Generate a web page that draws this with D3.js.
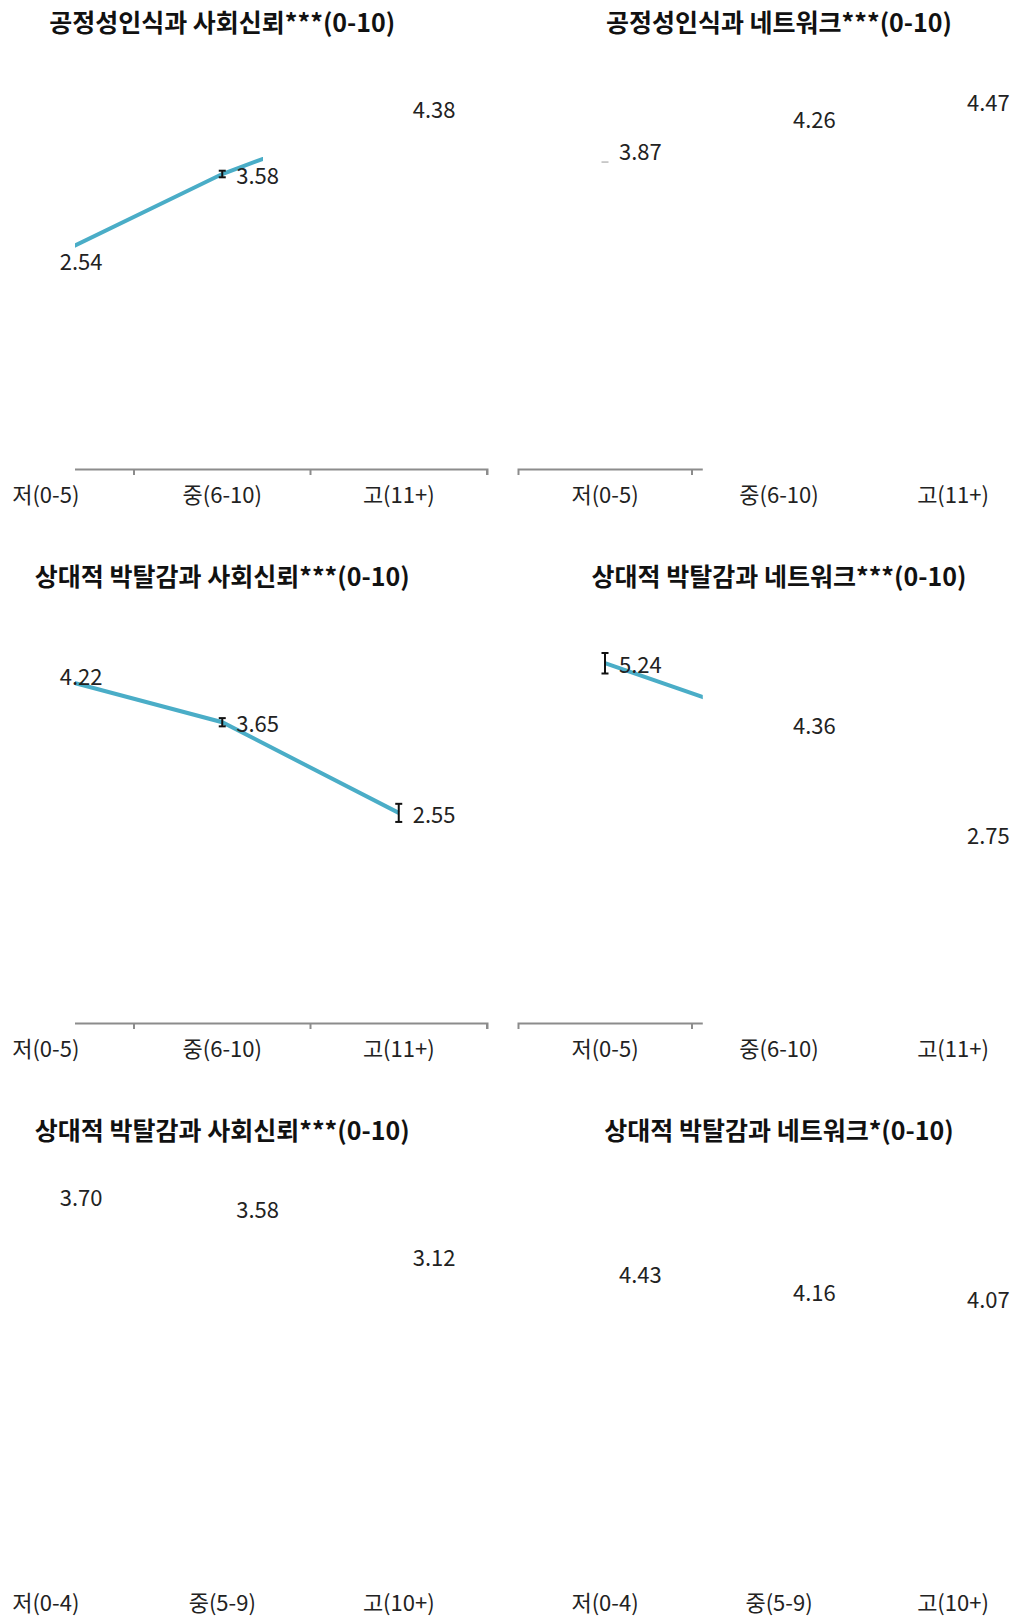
<!DOCTYPE html>
<html><head><meta charset="utf-8">
<script src="https://cdn.jsdelivr.net/npm/d3@7"></script>
<style>
html,body{margin:0;padding:0;background:#fff;}
svg{display:block;font-family:"Noto Sans CJK KR","Noto Sans",sans-serif;}
</style></head>
<body><svg id="chart" width="1014" height="1618"></svg>
<script>
// ---- data ----
const titles = [
  "공정성인식과 사회신뢰***(0-10)",
  "공정성인식과 네트워크***(0-10)",
  "상대적 박탈감과 사회신뢰***(0-10)",
  "상대적 박탈감과 네트워크***(0-10)",
  "상대적 박탈감과 사회신뢰***(0-10)",
  "상대적 박탈감과 네트워크*(0-10)"
];
const catsA = ["저(0-5)", "중(6-10)", "고(11+)"];
const catsB = ["저(0-4)", "중(5-9)", "고(10+)"];
const panelCats = [catsA, catsA, catsA, catsA, catsB, catsB];
const means1 = [2.54, 3.58, 4.38];
const means2 = [3.87, 4.26, 4.47];
const means3 = [4.22, 3.65, 2.55];
const means4 = [5.24, 4.36, 2.75];
const means5 = [3.70, 3.58, 3.12];
const means6 = [4.43, 4.16, 4.07];
const errs1 = [0.06, 0.04, 0.07];
const errs2 = [0.145, 0.05, 0.08];
const errs3 = [0.07, 0.05, 0.11];
const errs4 = [0.15, 0.06, 0.12];
const errs5 = [0.08, 0.04, 0.08];
const errs6 = [0.10, 0.05, 0.10];
const yMaxes = [5, 5, 5, 6, 4, 6];
// reveal state of each panel (fraction of x range drawn)
const lineReveal = [0.577, 0, 1, 0.354, 0, 0];
const axisReveal = [1, 0.354, 1, 0.354, 0, 0];
const capOnly = [false, true, false, false, false, false];

const panelMeans = [means1, means2, means3, means4, means5, means6];
const panelErrs = [errs1, errs2, errs3, errs4, errs5, errs6];

// ---- layout ----
const rowStep = 554;
const xRanges = [[-42.5, 487], [518, 1040]];
const clipStartFrac = [0.222, -0.03];
const baseY = 469, topY = 57, titleY = 21;
const lineColor = "#4aadc7";
const fontStack = '"Noto Sans CJK KR","Noto Sans",sans-serif';

const svg = d3.select("#chart");
const defs = svg.append("defs");

titles.forEach((title, i) => {
  const col = i % 2, row = Math.floor(i / 2), off = row * rowStep;
  const cats = panelCats[i];
  const data = cats.map((c, k) => ({cat: c, v: panelMeans[i][k], e: panelErrs[i][k]}));
  const x = d3.scaleBand().domain(cats).range(xRanges[col]).padding(0);
  const bw = x.bandwidth();
  const cx = d => x(d.cat) + bw / 2;
  const y = d3.scaleLinear().domain([0, yMaxes[i]]).range([baseY + off, topY + off]);
  const r0 = xRanges[col][0], span = xRanges[col][1] - xRanges[col][0];
  const cStart = r0 + span * clipStartFrac[col];

  const g = svg.append("g");

  // title
  g.append("text")
    .attr("x", x(cats[1]) + bw / 2)
    .attr("y", titleY + off)
    .attr("text-anchor", "middle")
    .attr("dominant-baseline", "central")
    .attr("font-size", 25)
    .attr("font-weight", 700)
    .attr("fill", "#111")
    .text(title);

  // axis lines (clipped by reveal)
  const axId = "axclip" + i;
  const axEnd = r0 + span * axisReveal[i];
  const axW = axisReveal[i] > 0 ? Math.max(0, axEnd - cStart + (axisReveal[i] >= 1 ? 4 : 0)) : 0;
  defs.append("clipPath").attr("id", axId).append("rect")
    .attr("x", cStart).attr("y", -20)
    .attr("width", axW)
    .attr("height", 40);
  const axG = g.append("g").attr("transform", `translate(0,${y(0)})`);
  const axLines = axG.append("g").attr("clip-path", `url(#${axId})`)
    .call(d3.axisBottom(x).tickSizeInner(6).tickSizeOuter(6).tickFormat(""));
  axLines.selectAll(".tick line").attr("transform", `translate(${bw / 2},0)`);
  axLines.selectAll("path.domain, line").attr("stroke", "#8c8c8c").attr("stroke-width", 2);
  // axis labels
  const axLabels = axG.append("g")
    .call(d3.axisBottom(x).tickSize(0).tickPadding(18));
  axLabels.select(".domain").remove();
  axLabels.selectAll("text").attr("font-size", 22).attr("fill", "#222")
    .attr("font-family", fontStack);

  // line + error bars (clipped by reveal)
  const lnId = "lnclip" + i;
  const lnEnd = r0 + span * lineReveal[i];
  defs.append("clipPath").attr("id", lnId).append("rect")
    .attr("x", cStart).attr("y", topY + off - 40)
    .attr("width", lineReveal[i] > 0 ? Math.max(0, lnEnd - cStart) : 0)
    .attr("height", baseY - topY + 80);
  const lg = g.append("g").attr("clip-path", `url(#${lnId})`);
  lg.append("path").datum(data)
    .attr("d", d3.line().x(cx).y(d => y(d.v)))
    .attr("fill", "none").attr("stroke", lineColor).attr("stroke-width", 4);
  const eb = lg.selectAll("g.err").data(data).join("g").attr("class", "err")
    .attr("stroke", "#111").attr("stroke-width", 2);
  eb.append("line").attr("x1", cx).attr("x2", cx)
    .attr("y1", d => y(d.v - d.e)).attr("y2", d => y(d.v + d.e));
  eb.append("line").attr("x1", d => cx(d) - 3.5).attr("x2", d => cx(d) + 3.5)
    .attr("y1", d => y(d.v - d.e)).attr("y2", d => y(d.v - d.e));
  eb.append("line").attr("x1", d => cx(d) - 3.5).attr("x2", d => cx(d) + 3.5)
    .attr("y1", d => y(d.v + d.e)).attr("y2", d => y(d.v + d.e));

  // partially-drawn error bar (bottom cap only)
  if (capOnly[i]) {
    const d0 = data[0];
    g.append("line")
      .attr("x1", cx(d0) - 3.5).attr("x2", cx(d0) + 3.5)
      .attr("y1", y(d0.v - d0.e)).attr("y2", y(d0.v - d0.e))
      .attr("stroke", "#aaa").attr("stroke-width", 1.2);
  }

  // value labels
  g.selectAll("text.val").data(data).join("text").attr("class", "val")
    .attr("x", d => cx(d) + 14)
    .attr("y", d => y(d.v))
    .attr("dominant-baseline", "central")
    .attr("font-size", 22)
    .attr("fill", "#222")
    .text(d => d.v.toFixed(2));
});
</script></body></html>
